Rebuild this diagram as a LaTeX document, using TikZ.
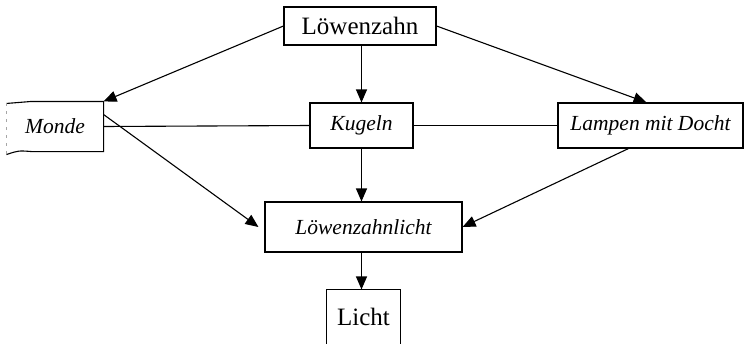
\documentclass[tikz,border=0pt]{standalone}
\usepackage{fontspec}
\setmainfont{Liberation Serif}
\usetikzlibrary{arrows.meta}
\begin{document}
\begin{tikzpicture}[x=1pt,y=-1pt,
  box/.style={draw,line width=1.1pt,inner sep=0pt,font=\fontsize{25}{28}\selectfont},
  ibox/.style={box,font=\fontsize{21.5}{24}\selectfont\itshape},
  arr/.style={line width=1.1pt,-{Triangle[length=13pt,width=11pt]}},
  ln/.style={line width=1.1pt}]
\useasboundingbox (0,0) rectangle (746,343);
\node[box,minimum width=152pt,minimum height=38pt] (lz) at (360,26) {Löwenzahn};
\node[ibox,draw=none,minimum width=96pt,minimum height=49pt] (monde) at (55,126.5) {Monde};
\draw[line width=1.1pt] ([yshift=-2pt]monde.north west) .. controls ([xshift=12pt,yshift=-1pt]monde.north west) .. ([xshift=25pt]monde.north west) -- (monde.north east) -- (monde.south east) -- ([xshift=25pt]monde.south west) .. controls ([xshift=12pt,yshift=1pt]monde.south west) .. ([yshift=-3pt]monde.south west);
\draw[line width=0.6pt,gray!70,dash pattern=on 3pt off 5pt] ([yshift=-2pt]monde.north west) -- ([yshift=-3pt]monde.south west);
\node[ibox,minimum width=103pt,minimum height=45pt] (kugeln) at (361.5,125.5) {Kugeln};
\node[ibox,minimum width=185pt,minimum height=45pt] (lampen) at (650.5,125.5) {Lampen mit Docht};
\node[ibox,minimum width=197pt,minimum height=50pt] (llicht) at (363.5,227) {Löwenzahnlicht};
\node[box,draw=none,minimum width=73pt,minimum height=53pt] (licht) at (363.5,316.5) {Licht};
\draw[line width=1.1pt] (licht.south west) -- (licht.north west) -- (licht.north east) -- (licht.south east);
\draw[arr] (lz.west) -- (monde.north east);
\draw[arr] (lz.east) -- ([xshift=-4pt]lampen.north);
\draw[arr] (kugeln.north |- lz.south) -- (kugeln.north);
\draw[ln] (monde.east) -- (kugeln.west);
\draw[ln] (kugeln.east) -- (lampen.west);
\draw[arr] ([yshift=12pt]monde.east) -- ([xshift=-6pt]llicht.west);
\draw[arr] ([xshift=-22pt]lampen.south) -- (llicht.east);
\draw[arr] (kugeln.south) -- (kugeln.south |- llicht.north);
\draw[arr] (kugeln.south |- llicht.south) -- (kugeln.south |- licht.north);
\end{tikzpicture}
\end{document}
